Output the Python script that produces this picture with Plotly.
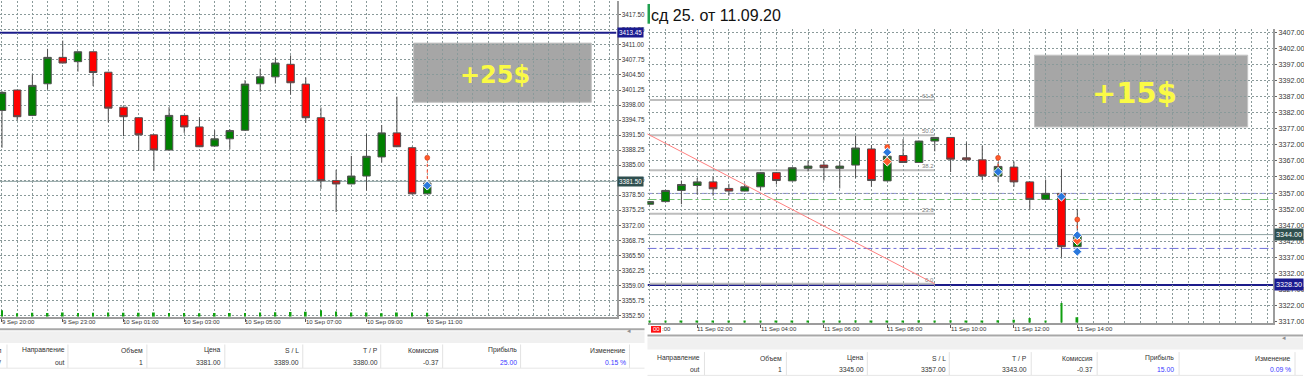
import plotly.graph_objects as go

W, H = 1304, 386


def px(x):
    return x / W


def py(y):
    return 1 - y / H


# ---------------- Left chart: M30, 9-10 Sep ----------------
L_open = [3396.83, 3401.25, 3395.76, 3402.60, 3408.31, 3407.38, 3409.52, 3405.10, 3397.54, 3395.26,
          3391.56, 3388.28, 3395.76, 3393.27, 3389.13, 3390.70, 3392.55, 3402.60, 3404.10, 3406.81,
          3402.53, 3395.26, 3381.65, 3380.94, 3382.65, 3386.78, 3391.98, 3388.78, 3378.80]
L_high = [3401.00, 3401.30, 3404.67, 3410.16, 3411.94, 3409.60, 3409.60, 3405.20, 3397.60, 3395.30,
          3391.60, 3397.54, 3395.80, 3395.40, 3392.55, 3392.80, 3403.39, 3405.88, 3408.23, 3408.73,
          3403.96, 3397.47, 3384.00, 3387.00, 3391.77, 3393.69, 3399.82, 3389.00, 3381.40]
L_low = [3388.78, 3394.69, 3395.60, 3401.39, 3407.00, 3405.24, 3402.10, 3394.26, 3391.27, 3388.06,
         3383.79, 3388.20, 3391.98, 3388.90, 3389.00, 3388.42, 3392.40, 3400.89, 3402.67, 3400.25,
         3394.12, 3379.87, 3374.88, 3380.90, 3379.50, 3385.57, 3388.90, 3378.70, 3378.70]
L_close = [3400.75, 3395.48, 3402.25, 3408.31, 3407.09, 3409.52, 3405.03, 3397.33, 3395.48, 3391.56,
           3388.28, 3395.76, 3393.27, 3388.99, 3390.70, 3392.48, 3402.53, 3404.10, 3407.09, 3402.82,
           3395.26, 3381.65, 3380.94, 3382.65, 3386.92, 3391.98, 3388.99, 3378.80, 3381.15]
L_volume = [1050, 560, 640, 600, 680, 600, 660, 680, 640, 660,
            680, 600, 600, 560, 600, 600, 620, 680, 720, 760,
            820, 1040, 840, 680, 680, 560, 680, 680, 640]
L_tick_index = [0, 4, 8, 12, 16, 20, 24, 28]
L_tick_text = ["9 Sep 20:00", "9 Sep 23:00", "10 Sep 01:00", "10 Sep 03:00",
               "10 Sep 05:00", "10 Sep 07:00", "10 Sep 09:00", "10 Sep 11:00"]
L_trade_index = [28]
L_trade_open = [3386.6]
L_trade_close = [3380.6]
L_level_blue = 3413.65
L_level_bid = 3381.5
L_label_blue = "3413.45"
L_label_bid = "3381.50"
L_result = "+25$"

# ---------------- Right chart: M30, 11 Sep ----------------
R_open = [3353.53, 3354.35, 3357.82, 3359.36, 3360.48, 3358.44, 3357.62, 3358.95, 3363.35, 3360.79,
          3364.68, 3365.70, 3364.68, 3365.70, 3370.71, 3360.79, 3368.66, 3366.51, 3373.16, 3374.29,
          3367.95, 3367.33, 3362.32, 3365.08, 3360.48, 3355.06, 3356.91, 3340.34]
R_high = [3354.50, 3358.00, 3360.90, 3361.71, 3362.00, 3359.87, 3359.97, 3363.50, 3363.50, 3365.00,
          3367.13, 3366.80, 3366.80, 3374.80, 3371.93, 3370.50, 3373.78, 3373.30, 3374.40, 3374.40,
          3372.75, 3371.73, 3366.60, 3366.82, 3360.60, 3361.20, 3364.57, 3352.10]
R_low = [3353.40, 3354.20, 3353.53, 3356.60, 3356.19, 3356.19, 3357.50, 3357.90, 3359.67, 3360.70,
         3363.75, 3360.90, 3358.44, 3361.71, 3358.95, 3360.70, 3366.40, 3366.40, 3369.99, 3363.55,
         3366.82, 3361.00, 3360.48, 3358.95, 3351.79, 3354.90, 3336.97, 3340.20]
R_close = [3354.35, 3357.82, 3359.67, 3360.48, 3358.33, 3357.62, 3358.95, 3363.35, 3360.90, 3364.88,
           3365.39, 3364.88, 3365.39, 3371.01, 3360.90, 3368.46, 3366.51, 3373.16, 3374.29, 3367.54,
           3367.33, 3362.32, 3365.29, 3360.48, 3355.06, 3356.91, 3340.34, 3344.12]
R_volume = [390, 390, 390, 400, 390, 390, 400, 390, 390, 400,
            390, 400, 390, 420, 400, 400, 390, 420, 400, 420,
            390, 400, 420, 520, 800, 400, 3360, 960]
R_tick_index = [3, 7, 11, 15, 19, 23, 27]
R_tick_text = ["11 Sep 02:00", "11 Sep 04:00", "11 Sep 06:00", "11 Sep 08:00",
               "11 Sep 10:00", "11 Sep 12:00", "11 Sep 14:00"]
R_sell_marks_x = [15, 22, 27]
R_sell_marks_y = [3371.3, 3367.95, 3348.8]
R_sell_exit_y = [3366.8, 3363.6, 3342.2]
R_exit_marks_x = [15, 27]
R_exit_marks_y = [3366.8, 3342.2]
R_buy_marks_x = [15, 22, 26, 27, 27]
R_buy_marks_y = [3369.7, 3363.6, 3355.9, 3343.9, 3338.8]
R_level_blue = 3328.47
R_level_bid = 3344.1
R_level_sl = 3356.9
R_level_green = 3355.0
R_level_low = 3339.8
R_label_blue = "3328.50"
R_label_bid = "3344.00"
R_fib_high = 3421.2
R_fib_low = 3328.8
R_fib_levels = [0.0, 23.6, 38.2, 50.0, 61.8]
R_fib_end = 18
R_result = "+15$"
R_title = "сд 25. от 11.09.20"

# ---------------- Tables ----------------
T_headers_left = ["Тип", "Направление", "Объем", "Цена", "S / L", "T / P", "Комиссия", "Прибыль", "Изменение"]
T_values_left = ["buy", "out", "1", "3381.00", "3389.00", "3380.00", "-0.37", "25.00", "0.15 %"]
T_headers_right = ["Направление", "Объем", "Цена", "S / L", "T / P", "Комиссия", "Прибыль", "Изменение"]
T_values_right = ["out", "1", "3345.00", "3357.00", "3343.00", "-0.37", "15.00", "0.09 %"]

# ---------------- styling constants ----------------
FONT = "Liberation Sans"
GRID = "#8a9a9a"
AXLINE = "#9c9c9c"
TXT = "#333333"
BLUE_LINE = "#1c1c8a"
SLATE = "#2f4f4f"
ORANGE = "#ff5a2a"
MBLUE = "#2a78dd"

fig = go.Figure()


def candles(o, h, l, c, xa, ya):
    return go.Candlestick(
        x=list(range(len(o))), open=o, high=h, low=l, close=c,
        xaxis=xa, yaxis=ya, whiskerwidth=0, showlegend=False, hoverinfo="skip",
        increasing=dict(fillcolor="#008000", line=dict(color="#505050", width=1)),
        decreasing=dict(fillcolor="#ff0000", line=dict(color="#505050", width=1)),
    )


fig.add_trace(go.Bar(x=list(range(len(L_volume))), y=L_volume, xaxis="x", yaxis="y3",
                     marker=dict(color="#10a010", line=dict(width=0)), width=0.12,
                     showlegend=False, hoverinfo="skip"))
fig.add_trace(go.Bar(x=list(range(len(R_volume))), y=R_volume, xaxis="x2", yaxis="y4",
                     marker=dict(color="#10a010", line=dict(width=0)), width=0.12,
                     showlegend=False, hoverinfo="skip"))
fig.add_trace(candles(L_open, L_high, L_low, L_close, "x", "y"))
fig.add_trace(candles(R_open, R_high, R_low, R_close, "x2", "y2"))

# Fibonacci trend line (right)
fig.add_trace(go.Scatter(x=[-R_fib_end, R_fib_end], y=[R_fib_high, R_fib_low], mode="lines",
                         line=dict(color="#ff8080", width=1), xaxis="x2", yaxis="y2",
                         showlegend=False, hoverinfo="skip"))


def connectors(xs, y0s, y1s):
    X, Y = [], []
    for x, a, b in zip(xs, y0s, y1s):
        X += [x, x, None]
        Y += [a, b, None]
    return X, Y


cx, cy = connectors(L_trade_index, L_trade_open, L_trade_close)
fig.add_trace(go.Scatter(x=cx, y=cy, mode="lines", line=dict(color="#ff4020", width=1, dash="dot"),
                         xaxis="x", yaxis="y", showlegend=False, hoverinfo="skip"))
cx, cy = connectors(R_sell_marks_x, R_sell_marks_y, R_sell_exit_y)
fig.add_trace(go.Scatter(x=cx, y=cy, mode="lines", line=dict(color="#ff4020", width=1, dash="dot"),
                         xaxis="x2", yaxis="y2", showlegend=False, hoverinfo="skip"))

fig.add_trace(go.Scatter(x=L_trade_index, y=L_trade_open, mode="markers", xaxis="x", yaxis="y",
                         marker=dict(symbol="circle", size=5, color=ORANGE, line=dict(color="#c03010", width=0.5)),
                         showlegend=False, hoverinfo="skip"))
fig.add_trace(go.Scatter(x=L_trade_index, y=L_trade_close, mode="markers", xaxis="x", yaxis="y",
                         marker=dict(symbol="diamond", size=7, color=MBLUE, line=dict(color="white", width=1)),
                         showlegend=False, hoverinfo="skip"))
fig.add_trace(go.Scatter(x=R_sell_marks_x, y=R_sell_marks_y, mode="markers", xaxis="x2", yaxis="y2",
                         marker=dict(symbol="circle", size=5, color=ORANGE, line=dict(color="#c03010", width=0.5)),
                         showlegend=False, hoverinfo="skip"))
fig.add_trace(go.Scatter(x=R_exit_marks_x, y=R_exit_marks_y, mode="markers", xaxis="x2", yaxis="y2",
                         marker=dict(symbol="diamond", size=7, color=ORANGE, line=dict(color="white", width=1)),
                         showlegend=False, hoverinfo="skip"))
fig.add_trace(go.Scatter(x=R_buy_marks_x, y=R_buy_marks_y, mode="markers", xaxis="x2", yaxis="y2",
                         marker=dict(symbol="diamond", size=7, color=MBLUE, line=dict(color="white", width=1)),
                         showlegend=False, hoverinfo="skip"))

shapes = []
ann = []

# domains (pixels)
L_X0, L_X1, L_Y0, L_Y1 = 0, 617, 0, 320
R_X0, R_X1, R_Y0, R_Y1 = 648, 1274, 28, 326
L_XR = [-0.13, 40.46]
R_XR = [-0.14, 39.36]


def hline(xr, yr, xrange_, y, color, width=1, dash="solid"):
    shapes.append(dict(type="line", xref=xr, yref=yr, x0=xrange_[0], x1=xrange_[1], y0=y, y1=y,
                       line=dict(color=color, width=width, dash=dash), layer="below"))


hline("x", "y", L_XR, L_level_blue, BLUE_LINE, 2)
hline("x", "y", L_XR, L_level_bid, "#8fa3a3", 1)
hline("x2", "y2", R_XR, R_level_blue, BLUE_LINE, 2)
hline("x2", "y2", R_XR, R_level_bid, "#8fa3a3", 1)
hline("x2", "y2", R_XR, R_level_sl, "#9090e0", 1, "6px,3px")
hline("x2", "y2", R_XR, R_level_green, "#70c070", 1, "dashdot")
hline("x2", "y2", R_XR, R_level_low, "#7070d8", 1, "dashdot")

for lv in R_fib_levels:
    price = R_fib_low + (R_fib_high - R_fib_low) * lv / 100.0
    shapes.append(dict(type="line", xref="x2", yref="y2", x0=0, x1=R_fib_end, y0=price, y1=price,
                       line=dict(color="#bdbdbd", width=2), layer="below"))
    ann.append(dict(xref="x2", yref="y2", x=R_fib_end, y=price, text=f"{lv:.1f}", showarrow=False,
                    xanchor="right", yanchor="bottom", font=dict(family=FONT, size=6, color="#808080"),
                    borderpad=0))

shapes.append(dict(type="rect", xref="x", yref="y", x0=27.1, x1=38.8, y0=3398.6, y1=3411.4,
                   fillcolor="#a6a6a6", line=dict(color="#c4c4c4", width=1), layer="below"))
shapes.append(dict(type="rect", xref="x2", yref="y2", x0=24.3, x1=37.76, y0=3377.55, y1=3399.85,
                   fillcolor="#a6a6a6", line=dict(color="#c4c4c4", width=1), layer="below"))
ann.append(dict(xref="x", yref="y", x=32.45, y=3404.5, text=f"<b>{L_result}</b>", showarrow=False,
                font=dict(family="DejaVu Sans", size=24, color="#fafa45")))
ann.append(dict(xref="x2", yref="y2", x=30.6, y=3388.2, text=f"<b>{R_result}</b>", showarrow=False,
                font=dict(family="DejaVu Sans", size=29, color="#fafa45")))


def price_label(xpix, yr, y, text, bg, size):
    ann.append(dict(xref="paper", yref=yr, x=px(xpix), y=y, text=text, showarrow=False,
                    xanchor="left", yanchor="middle", bgcolor=bg, borderpad=1,
                    font=dict(family=FONT, size=size, color="white")))


price_label(617.5, "y", L_level_blue, L_label_blue, "#1a1a90", 6.3)
price_label(617.5, "y", L_level_bid, L_label_bid, SLATE, 6.3)
price_label(1275, "y2", R_level_blue, R_label_blue, "#1a1a90", 7.2)
price_label(1275, "y2", R_level_bid, R_label_bid, SLATE, 7.2)

for i, t in zip(L_tick_index, L_tick_text):
    ann.append(dict(xref="x", yref="paper", x=i, y=py(325.7), text=t, showarrow=False,
                    xanchor="left", yanchor="middle", xshift=-1, borderpad=0,
                    font=dict(family=FONT, size=6, color=TXT)))
for i, t in zip(R_tick_index, R_tick_text):
    ann.append(dict(xref="x2", yref="paper", x=i, y=py(332.7), text=t, showarrow=False,
                    xanchor="left", yanchor="middle", xshift=-1, borderpad=0,
                    font=dict(family=FONT, size=6, color=TXT)))

shapes.append(dict(type="rect", xref="paper", yref="paper", x0=px(651.5), x1=px(661.5), y0=py(336), y1=py(329.3),
                   fillcolor="#ff1010", line=dict(width=0)))
ann.append(dict(xref="paper", yref="paper", x=px(652), y=py(332.7), text="00", showarrow=False,
                xanchor="left", yanchor="middle", borderpad=0, font=dict(family=FONT, size=6, color="white")))
ann.append(dict(xref="paper", yref="paper", x=px(661.5), y=py(332.7), text=":00", showarrow=False,
                xanchor="left", yanchor="middle", borderpad=0, font=dict(family=FONT, size=6, color=TXT)))

ann.append(dict(xref="paper", yref="paper", x=px(650), y=py(15), text=R_title, showarrow=False,
                xanchor="left", yanchor="middle", borderpad=0, font=dict(family=FONT, size=16, color="#111111")))
shapes.append(dict(type="rect", xref="paper", yref="paper", x0=px(648), x1=px(650.5), y0=py(23), y1=py(3),
                   fillcolor="#20a050", line=dict(width=0)))


def table(x_left, x_right, y_sep, col_right, col_lines, headers, values, y_head, y_val, arrow_x):
    shapes.append(dict(type="line", xref="paper", yref="paper", x0=px(x_left), x1=px(x_right),
                       y0=py(y_sep), y1=py(y_sep), line=dict(color="#a8a8a8", width=2)))
    shapes.append(dict(type="rect", xref="paper", yref="paper", x0=px(x_left), x1=px(x_right),
                       y0=py(y_sep + 14), y1=py(y_sep + 2), fillcolor="#f0f0f0", line=dict(width=0)))
    ann.append(dict(xref="paper", yref="paper", x=px(arrow_x), y=py(y_sep + 8), text="◂", showarrow=False,
                    font=dict(family="DejaVu Sans", size=7, color="#909090")))
    top, bottom = y_head - 6, y_val + 6
    for xl in col_lines:
        shapes.append(dict(type="line", xref="paper", yref="paper", x0=px(xl), x1=px(xl),
                           y0=py(bottom), y1=py(top), line=dict(color="#e2e2e2", width=1)))
    shapes.append(dict(type="line", xref="paper", yref="paper", x0=px(x_left), x1=px(x_right),
                       y0=py(bottom), y1=py(bottom), line=dict(color="#e6e6e6", width=1)))
    n = len(headers)
    for k, (xr, hd, vl) in enumerate(zip(col_right, headers, values)):
        vcol = "#3a3aff" if k >= n - 2 else TXT
        ann.append(dict(xref="paper", yref="paper", x=px(xr), y=py(y_head), text=hd, showarrow=False,
                        xanchor="right", yanchor="middle", borderpad=0,
                        font=dict(family=FONT, size=6.8, color=TXT)))
        ann.append(dict(xref="paper", yref="paper", x=px(xr), y=py(y_val), text=vl, showarrow=False,
                        xanchor="right", yanchor="middle", borderpad=0,
                        font=dict(family=FONT, size=6.8, color=vcol)))


table(0, 645, 332.5, [3.5, 66, 144, 222, 300, 379, 440, 518, 627],
      [7, 68, 147, 225, 303, 381, 443, 521, 630],
      T_headers_left, T_values_left, 354, 366, 629)
table(648, 1304, 339, [702, 784, 866, 948, 1029, 1095, 1176, 1293],
      [705, 787, 868, 950, 1032, 1098, 1180, 1296],
      T_headers_right, T_values_right, 361.7, 373.3, 1289)

grid_common = dict(showgrid=True, gridcolor=GRID, griddash="2px,2px", gridwidth=1, zeroline=False)

fig.update_layout(
    width=W, height=H, autosize=False,
    margin=dict(l=0, r=0, t=0, b=0, pad=0),
    paper_bgcolor="white", plot_bgcolor="white",
    showlegend=False, barmode="overlay",
    xaxis=dict(domain=[px(L_X0), px(L_X1)], range=L_XR, anchor="y",
               tickmode="linear", tick0=0, dtick=1, showticklabels=False, ticks="",
               minor=dict(tickmode="array", tickvals=L_tick_index, ticks="outside", ticklen=3,
                          tickcolor="#555555", showgrid=False),
               showline=True, linecolor=AXLINE, linewidth=2,
               rangeslider=dict(visible=False), **grid_common),
    yaxis=dict(domain=[py(L_Y1), py(L_Y0)], range=[3352.2, 3420.5], anchor="x", side="right",
               tickmode="linear", tick0=3355.75, dtick=3.25, tickformat=".2f",
               ticks="outside", ticklen=2, tickcolor="#666666",
               tickfont=dict(family=FONT, size=6.3, color=TXT),
               showline=True, linecolor=AXLINE, linewidth=2, **grid_common),
    yaxis3=dict(overlaying="y", anchor="x", range=[0, 50000], visible=False),
    xaxis2=dict(domain=[px(R_X0), px(R_X1)], range=R_XR, anchor="y2",
                tickmode="linear", tick0=0, dtick=1, showticklabels=False, ticks="",
                minor=dict(tickmode="array", tickvals=R_tick_index, ticks="outside", ticklen=3,
                           tickcolor="#555555", showgrid=False),
                showline=True, linecolor=AXLINE, linewidth=2,
                rangeslider=dict(visible=False), **grid_common),
    yaxis2=dict(domain=[py(R_Y1), py(R_Y0)], range=[3316.7, 3408.1], anchor="x2", side="right",
                tickmode="linear", tick0=3322, dtick=5, tickformat=".2f",
                ticks="outside", ticklen=2, tickcolor="#666666",
                tickfont=dict(family=FONT, size=7.2, color=TXT),
                showline=True, linecolor=AXLINE, linewidth=2, **grid_common),
    yaxis4=dict(overlaying="y2", anchor="x2", range=[0, 50000], visible=False),
    shapes=shapes, annotations=ann,
)

fig.write_html("out.html", config={"displayModeBar": False},
               post_script="document.body.style.margin='0';document.body.style.overflow='hidden';")
